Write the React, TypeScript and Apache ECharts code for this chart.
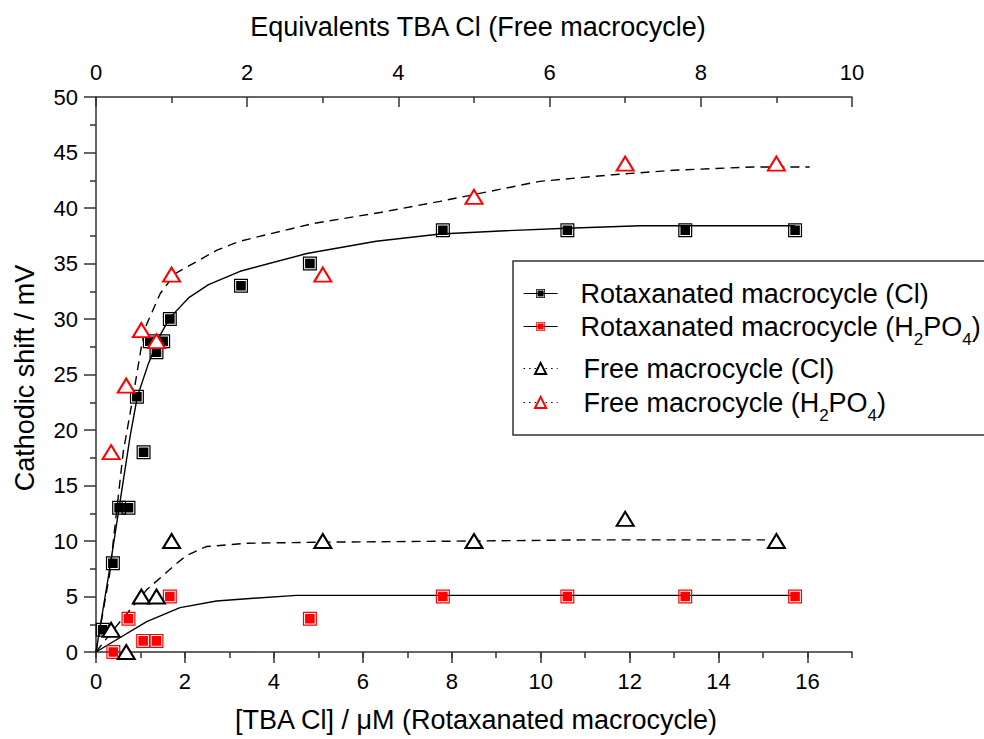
import React, { useEffect, useRef } from "react";
import * as echarts from "echarts";

// ---- data ----
// Rotaxanated macrocycle, bottom axis: [TBA Cl] / µM
const rotClX = [0.15, 0.38, 0.52, 0.73, 0.92, 1.07, 1.21, 1.36, 1.51, 1.66, 3.26, 4.81, 7.8, 10.6, 13.25, 15.72];
const rotClY = [2, 8, 13, 13, 23, 18, 28, 27, 28, 30, 33, 35, 38, 38, 38, 38];
const rotH2X = [0.39, 0.73, 1.06, 1.36, 1.66, 4.81, 7.8, 10.6, 13.25, 15.72];
const rotH2Y = [0, 3, 1, 1, 5, 3, 5, 5, 5, 5];
// Free macrocycle, top axis: equivalents TBA Cl
const freeClX = [0.2, 0.4, 0.6, 0.8, 1, 3, 5, 7, 9];
const freeClY = [2, 0, 5, 5, 10, 10, 10, 12, 10];
const freeH2X = [0.2, 0.4, 0.6, 0.8, 1, 3, 5, 7, 9];
const freeH2Y = [18, 24, 29, 28, 34, 34, 41, 44, 44];
// fitted curves
const rotClFitX = [0, 0.32, 0.52, 0.77, 0.93, 1.18, 1.45, 1.66, 2.08, 2.53, 3.24, 4.74, 6.3, 7.74, 9.2, 10.59, 12.24, 15.72];
const rotClFitY = [0, 7.8, 13, 19.5, 23, 26, 28.6, 30.1, 31.9, 33.1, 34.3, 35.9, 37.0, 37.66, 37.95, 38.17, 38.4, 38.4];
const rotH2FitX = [0, 1.14, 1.89, 2.71, 3.54, 4.51, 15.72];
const rotH2FitY = [0, 2.73, 4.0, 4.6, 4.84, 5.1, 5.1];
const freeH2FitX = [0, 0.18, 0.36, 0.49, 0.6, 0.65, 0.85, 1.05, 1.6, 1.9, 2.26, 2.87, 3.76, 4.55, 5.87, 6.84, 7.64, 8.69, 9.44];
const freeH2FitY = [0, 7, 18, 23, 27.5, 29.2, 32.3, 34.1, 36.2, 37.0, 37.6, 38.6, 39.6, 40.6, 42.4, 43.0, 43.4, 43.7, 43.7];
const freeClFitX = [0, 0.23, 0.67, 1.07, 1.2, 1.46, 1.99, 3.1, 5, 6.5, 8.85];
const freeClFitY = [0, 2.0, 5.6, 8.0, 8.7, 9.5, 9.8, 9.9, 10.0, 10.1, 10.1];
// axis ticks
const bottomTicks = [0, 2, 4, 6, 8, 10, 12, 14, 16];

const names = [
  "Rotaxanated macrocycle (Cl)",
  "Rotaxanated macrocycle (H2PO4)",
  "Free macrocycle (Cl)",
  "Free macrocycle (H2PO4)",
];

const FONT = '"Liberation Sans", Arial, Helvetica, sans-serif';
const SQ = "path://M0 0H14V14H0Z M1.2 1.2V12.8H12.8V1.2Z M2.2 2.2H11.8V11.8H2.2Z";

const pairs = (xs: number[], ys: number[]) => xs.map((x, i) => [x, ys[i]]);

const legendFmt = (n: string) => {
  if (n.indexOf("H2PO4") >= 0) {
    const pre = n.replace(" (H2PO4)", " (H");
    return `{t|${pre}}{s|2}{t|PO}{s|4}{t|)}`;
  }
  return `{t|${n}}`;
};

function makeLegend(name: string, top: number, pad: number, ih: number, dotted: boolean) {
  return {
    show: true,
    left: 518,
    top,
    orient: "horizontal",
    selectedMode: false,
    data: [name],
    itemWidth: 34,
    itemHeight: ih,
    formatter: legendFmt,
    lineStyle: {
      color: "#000",
      width: 1.2,
      type: dotted ? [1.5, 4] : "solid",
      opacity: 1,
    },
    textStyle: {
      color: "#000",
      fontFamily: FONT,
      fontSize: 27,
      padding: [0, 0, 0, pad],
      rich: {
        t: { fontSize: 27, fontFamily: FONT, color: "#000", lineHeight: 43 },
        s: { fontSize: 17, fontFamily: FONT, color: "#000", lineHeight: 17, verticalAlign: "bottom" },
      },
    },
  };
}

export default function App() {
  const ref = useRef<HTMLDivElement>(null);
  useEffect(() => {
    document.body.style.margin = "0";
    if (!ref.current) return;
    const chart = echarts.init(ref.current, undefined, { renderer: "svg" });
    const axisLineStyle = { color: "#333", width: 1.5 };
    const labelBase = { color: "#000", fontFamily: FONT, fontSize: 22 };
    const option: any = {
      animation: false,
      backgroundColor: "#fff",
      grid: { left: 96, right: 132, top: 97, bottom: 87 },
      xAxis: [
        {
          type: "value",
          position: "bottom",
          min: 0,
          max: 17,
          interval: 2,
          axisLine: { show: true, onZero: false, lineStyle: axisLineStyle },
          axisTick: { show: true, length: 11, lineStyle: axisLineStyle, customValues: bottomTicks },
          axisLabel: {
            ...labelBase,
            margin: 18,
            customValues: bottomTicks,
            formatter: (v: number) => (v === 17 ? "" : String(v)),
          },
          splitLine: { show: false },
        },
        {
          type: "value",
          position: "top",
          min: 0,
          max: 10,
          interval: 2,
          axisLine: { show: true, onZero: false, lineStyle: axisLineStyle },
          axisTick: { show: true, inside: true, length: 10, lineStyle: axisLineStyle },
          minorTick: { show: true, splitNumber: 2, length: 6, lineStyle: axisLineStyle },
          axisLabel: { ...labelBase, margin: 14 },
          splitLine: { show: false },
        },
        {
          type: "value",
          position: "bottom",
          min: 0,
          max: 17,
          interval: 1,
          axisLine: { show: false, onZero: false },
          axisTick: { show: true, length: 6, lineStyle: axisLineStyle },
          axisLabel: { show: false },
          splitLine: { show: false },
        },
      ],
      yAxis: {
        type: "value",
        min: 0,
        max: 50,
        interval: 5,
        axisLine: { show: true, onZero: false, lineStyle: axisLineStyle },
        axisTick: { show: true, length: 12, lineStyle: axisLineStyle },
        minorTick: { show: true, splitNumber: 2, length: 6, lineStyle: axisLineStyle },
        axisLabel: { ...labelBase, margin: 18 },
        splitLine: { show: false },
      },
      legend: [
        makeLegend(names[0], 275, 18, 11, false),
        makeLegend(names[1], 308, 18, 11, false),
        makeLegend(names[2], 350, 21, 14, true),
        makeLegend(names[3], 384, 21, 14, true),
      ],
      graphic: [
        {
          type: "rect",
          z: 1,
          shape: { x: 513, y: 261, width: 520, height: 174 },
          style: { fill: "#fff", stroke: "#333", lineWidth: 1.5 },
        },
        {
          type: "text",
          x: 478,
          y: 27,
          style: {
            text: "Equivalents TBA Cl (Free macrocycle)",
            fontSize: 27,
            fontFamily: FONT,
            fill: "#000",
            textAlign: "center",
            textVerticalAlign: "middle",
          },
        },
        {
          type: "text",
          x: 476,
          y: 720,
          style: {
            text: "[TBA Cl] / \u03bcM (Rotaxanated macrocycle)",
            fontSize: 27,
            fontFamily: FONT,
            fill: "#000",
            textAlign: "center",
            textVerticalAlign: "middle",
          },
        },
        {
          type: "text",
          x: 25,
          y: 378,
          rotation: Math.PI / 2,
          style: {
            text: "Cathodic shift / mV",
            fontSize: 27,
            fontFamily: FONT,
            fill: "#000",
            textAlign: "center",
            textVerticalAlign: "middle",
          },
        },
      ],
      series: [
        {
          name: "fit-rot-cl",
          type: "line",
          xAxisIndex: 0,
          data: pairs(rotClFitX, rotClFitY),
          symbol: "none",
          silent: true,
          z: 2,
          lineStyle: { color: "#000", width: 1.4 },
        },
        {
          name: "fit-rot-h2po4",
          type: "line",
          xAxisIndex: 0,
          data: pairs(rotH2FitX, rotH2FitY),
          symbol: "none",
          silent: true,
          z: 2,
          lineStyle: { color: "#000", width: 1.4 },
        },
        {
          name: "fit-free-h2po4",
          type: "line",
          xAxisIndex: 1,
          data: pairs(freeH2FitX, freeH2FitY),
          symbol: "none",
          silent: true,
          z: 2,
          lineStyle: { color: "#000", width: 1.4, type: [9, 6] },
        },
        {
          name: "fit-free-cl",
          type: "line",
          xAxisIndex: 1,
          data: pairs(freeClFitX, freeClFitY),
          symbol: "none",
          silent: true,
          z: 2,
          lineStyle: { color: "#000", width: 1.4, type: [9, 6] },
        },
        {
          name: names[0],
          type: "line",
          xAxisIndex: 0,
          data: pairs(rotClX, rotClY),
          symbol: SQ,
          symbolSize: 14,
          showAllSymbol: true,
          z: 3,
          lineStyle: { opacity: 0, width: 0 },
          itemStyle: { color: "#000" },
        },
        {
          name: names[1],
          type: "line",
          xAxisIndex: 0,
          data: pairs(rotH2X, rotH2Y),
          symbol: SQ,
          symbolSize: 14,
          showAllSymbol: true,
          z: 3,
          lineStyle: { opacity: 0, width: 0 },
          itemStyle: { color: "#ff0000" },
        },
        {
          name: names[2],
          type: "line",
          xAxisIndex: 1,
          data: pairs(freeClX, freeClY),
          symbol: "emptyTriangle",
          symbolSize: [17, 14],
          showAllSymbol: true,
          z: 3,
          lineStyle: { opacity: 0, width: 0 },
          itemStyle: { color: "#000", borderWidth: 1.3 },
        },
        {
          name: names[3],
          type: "line",
          xAxisIndex: 1,
          data: pairs(freeH2X, freeH2Y),
          symbol: "emptyTriangle",
          symbolSize: [17, 14],
          showAllSymbol: true,
          z: 3,
          lineStyle: { opacity: 0, width: 0 },
          itemStyle: { color: "#ff0000", borderWidth: 1.3 },
        },
      ],
    };
    chart.setOption(option);
    return () => chart.dispose();
  }, []);
  return <div ref={ref} style={{ width: 984, height: 739 }} />;
}
